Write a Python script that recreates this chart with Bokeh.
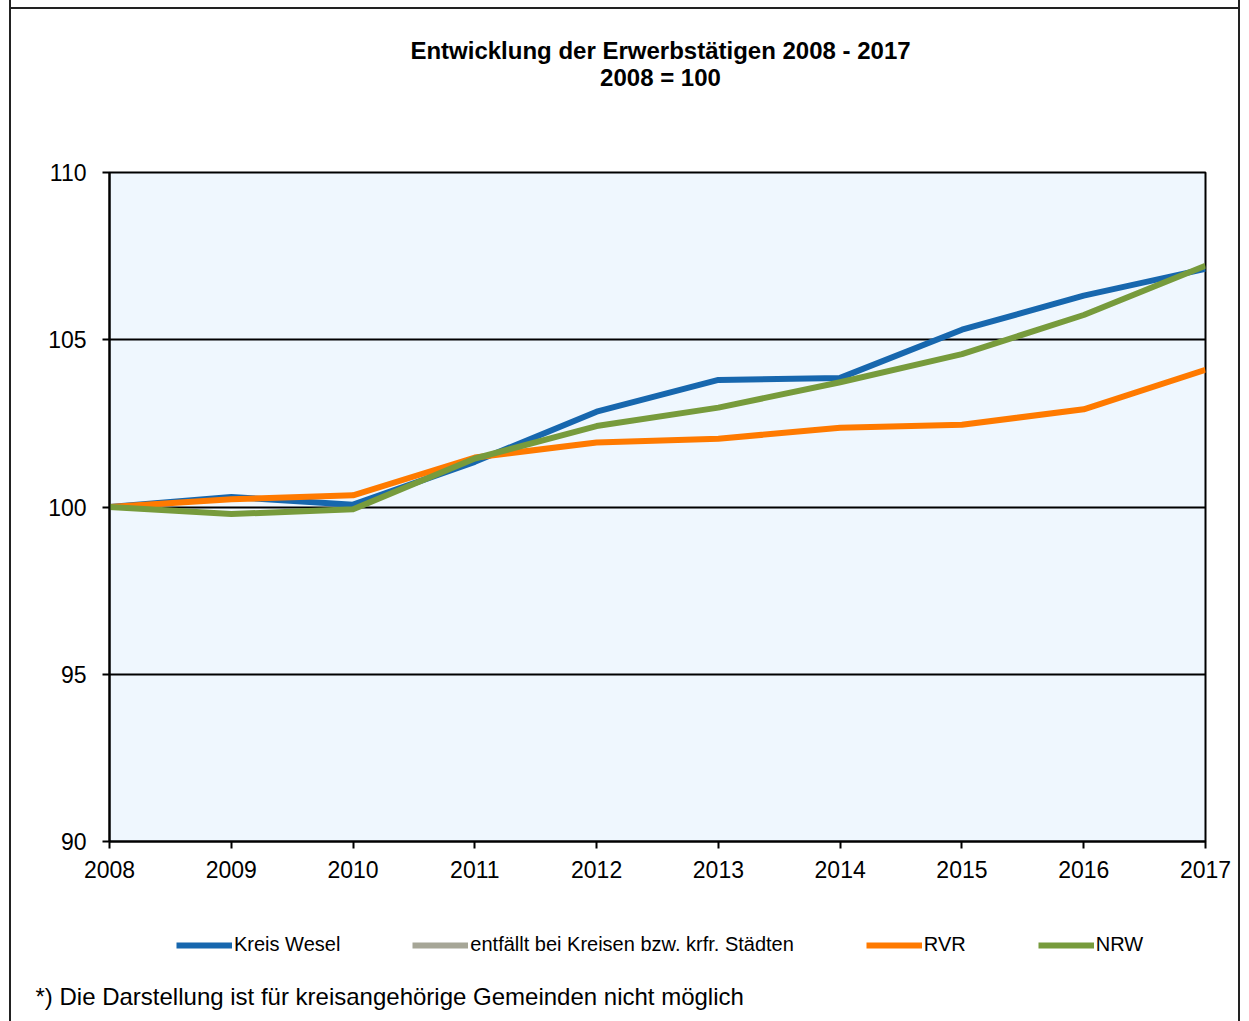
from bokeh.plotting import figure
from bokeh.layouts import column
from bokeh.models import (FixedTicker, Legend, LegendItem, Label, Range1d)
from bokeh.embed import file_html
from bokeh.resources import INLINE

# ---- data ----
years = [2008, 2009, 2010, 2011, 2012, 2013, 2014, 2015, 2016, 2017]
kreis_wesel = [100.0, 100.30, 100.07, 101.35, 102.85, 103.80, 103.86, 105.30, 106.32, 107.12]
entfaellt = [float("nan")] * len(years)   # no values ("entfällt")
rvr = [100.0, 100.23, 100.35, 101.48, 101.93, 102.04, 102.37, 102.46, 102.92, 104.10]
nrw = [100.0, 99.79, 99.93, 101.45, 102.42, 102.97, 103.73, 104.57, 105.74, 107.21]
y_ticks = [90, 95, 100, 105, 110]

series_names = ["Kreis Wesel", "entfällt bei Kreisen bzw. krfr. Städten", "RVR", "NRW"]
series_values = [kreis_wesel, entfaellt, rvr, nrw]
title_lines = ["Entwicklung der Erwerbstätigen 2008 - 2017", "2008 = 100"]
footnote = "*) Die Darstellung ist für kreisangehörige Gemeinden nicht möglich"

FONT = "Liberation Sans"
COLORS = ["#1767AE", "#A6A697", "#FF7A00", "#779B3C"]
W = 1249
H_TOP, H_MID, H_BOT = 150, 750, 121

GRAD = "linear-gradient(#222,#222)"
def border_css(h, top=False):
    parts = [f"{GRAD} 9px 0px/2px {h}px no-repeat",
             f"{GRAD} 1238px 0px/2px {h}px no-repeat"]
    if top:
        parts.append(f"{GRAD} 9px 7px/1231px 2px no-repeat")
    return ", ".join(parts) + ", #fff"

def text_panel(h, top=False):
    f = figure(width=W, height=h, output_backend="svg",
               toolbar_location=None, title=None, x_axis_type=None, y_axis_type=None,
               x_range=Range1d(0, 1), y_range=Range1d(0, 1), min_border=0,
               background_fill_alpha=0, border_fill_alpha=0, frame_align=False,
               styles={"background": border_css(h, top)})
    f.outline_line_color = None
    f.grid.visible = False
    return f

# ---- top: title ----
top = text_panel(H_TOP, top=True)
for txt, ty in zip(title_lines, [100, 73]):
    top.add_layout(Label(x=660, y=ty, x_units="screen", y_units="screen", text=txt,
                         text_font=FONT, text_font_size="24px", text_font_style="bold",
                         text_color="black", text_baseline="middle", text_align="center"))

# ---- middle: chart ----
p = figure(width=W, height=H_MID, output_backend="svg", toolbar_location=None, title=None,
           x_range=Range1d(2008, 2017), y_range=Range1d(90, 110),
           min_border_left=109, min_border_right=44, min_border_top=22, min_border_bottom=59,
           background_fill_color="#EFF7FE", border_fill_alpha=0, frame_align=False,
           styles={"background": border_css(H_MID)})
p.outline_line_color = "black"
p.outline_line_width = 2

p.xaxis.ticker = FixedTicker(ticks=years)
p.yaxis.ticker = FixedTicker(ticks=y_ticks)
for ax in (p.xaxis, p.yaxis):
    ax.axis_line_color = "black"
    ax.axis_line_width = 2
    ax.major_tick_line_color = "black"
    ax.major_tick_line_width = 2
    ax.major_tick_out = 7
    ax.major_tick_in = 0
    ax.minor_tick_line_color = None
    ax.major_label_text_font = FONT
    ax.major_label_text_font_size = "23px"
    ax.major_label_text_color = "black"
p.xaxis.major_label_standoff = 12
p.yaxis.major_label_standoff = 16

p.xgrid.grid_line_color = None
p.ygrid.ticker = FixedTicker(ticks=y_ticks)
p.ygrid.grid_line_color = "black"
p.ygrid.grid_line_width = 2

for vals, col in zip(series_values, COLORS):
    p.line(years, vals, line_color=col, line_width=6, line_join="round")

# ---- bottom: legend + footnote ----
bot = text_panel(H_BOT)
leg_renderers = [bot.line(years, vals, line_color=col, line_width=6)
                 for vals, col in zip(series_values, COLORS)]
legend = Legend(items=[LegendItem(label=n, renderers=[r])
                       for n, r in zip(series_names, leg_renderers)],
                location=(176, 65), orientation="horizontal",
                padding=0, margin=0, spacing=72,
                glyph_width=56, glyph_height=20, label_standoff=2,
                label_text_font=FONT, label_text_font_size="20px",
                label_text_color="black",
                border_line_color=None, background_fill_alpha=0)
bot.add_layout(legend, "center")
bot.add_layout(Label(x=35, y=25, x_units="screen", y_units="screen", text=footnote,
                     text_font=FONT, text_font_size="24px", text_color="black",
                     text_baseline="middle", text_align="left"))

layout = column(top, p, bot, spacing=0)
open("out.html", "w").write(file_html(layout, INLINE))
